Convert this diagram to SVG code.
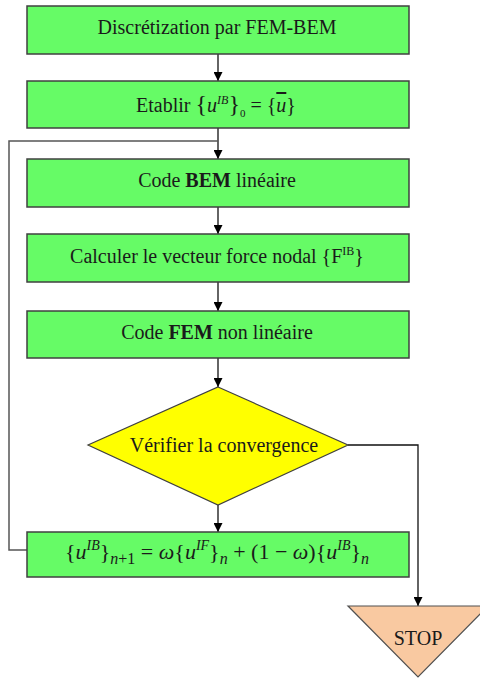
<svg xmlns="http://www.w3.org/2000/svg" width="480" height="678" viewBox="0 0 480 678">
  <defs>
    <marker id="arrow" viewBox="0 0 10 10" refX="10" refY="5" markerWidth="9" markerHeight="9" markerUnits="userSpaceOnUse" orient="auto">
      <path d="M0,0 L10,5 L0,10 Z" fill="#000"/>
    </marker>
    <style>
      .box { fill: #66fb66; stroke: #404040; stroke-width: 1.5; }
      .dec { fill: #ffff00; stroke: #404040; stroke-width: 1.2; }
      .term { fill: #f9c9a1; stroke: #505050; stroke-width: 1.2; }
      .lbl { font-family: "Liberation Serif", "Times New Roman", serif; font-size: 20px; fill: #1a1a1a; text-anchor: middle; }
      .math { font-family: "Liberation Serif", "DejaVu Serif", serif; font-size: 22px; fill: #1a1a1a; text-anchor: middle; }
      .conn { fill: none; stroke: #111; stroke-width: 1.3; }
      .loop { fill: none; stroke: #555; stroke-width: 1.5; }
    </style>
  </defs>

  <g id="connectors">
    <line class="conn" x1="218" y1="54" x2="218" y2="81" marker-end="url(#arrow)"/>
    <line class="conn" x1="218" y1="128" x2="218" y2="159" marker-end="url(#arrow)"/>
    <line class="conn" x1="218" y1="207" x2="218" y2="234" marker-end="url(#arrow)"/>
    <line class="conn" x1="218" y1="282" x2="218" y2="311" marker-end="url(#arrow)"/>
    <line class="conn" x1="218" y1="358" x2="218" y2="387" marker-end="url(#arrow)"/>
    <line class="conn" x1="218" y1="505" x2="218" y2="532" marker-end="url(#arrow)"/>
    <polyline class="loop" points="27,550 9,550 9,141 218,141"/>
    <polyline class="conn" points="348,445 418,445 418,606" marker-end="url(#arrow)"/>
  </g>

  <g id="discretization">
    <rect class="box" x="27" y="6" width="382" height="48"/>
    <text class="lbl" x="217" y="34">Discrétization par FEM-BEM</text>
  </g>

  <g id="etablir">
    <rect class="box" x="27" y="81" width="382" height="47"/>
    <text class="lbl" x="216" y="112">Etablir <tspan font-size="24">{</tspan><tspan font-style="italic">u</tspan><tspan font-style="italic" font-size="12" dy="-8">IB</tspan><tspan font-size="24" dy="8">}</tspan><tspan font-size="11" dy="5">0</tspan><tspan dy="-5"> = {</tspan><tspan font-style="italic" text-decoration="overline">u</tspan>}</text>
  </g>

  <g id="bem">
    <rect class="box" x="27" y="159" width="382" height="48"/>
    <text class="lbl" x="217" y="187">Code <tspan font-weight="bold">BEM</tspan> linéaire</text>
  </g>

  <g id="force">
    <rect class="box" x="27" y="234" width="382" height="48"/>
    <text class="lbl" x="217" y="263">Calculer le vecteur force nodal {F<tspan font-size="12" dy="-8">IB</tspan><tspan dy="8">}</tspan></text>
  </g>

  <g id="fem">
    <rect class="box" x="27" y="311" width="382" height="47"/>
    <text class="lbl" x="217" y="339">Code <tspan font-weight="bold">FEM</tspan> non linéaire</text>
  </g>

  <g id="convergence">
    <polygon class="dec" points="218,387 348,445 218,505 88,445"/>
    <text class="lbl" x="224" y="452">Vérifier la convergence</text>
  </g>

  <g id="update">
    <rect class="box" x="27" y="532" width="382" height="45"/>
    <text class="math" x="217" y="559">{<tspan font-style="italic">u</tspan><tspan font-style="italic" font-size="14" dy="-9">IB</tspan><tspan dy="9">}</tspan><tspan font-style="italic" font-size="16" dy="5">n</tspan><tspan font-size="16">+1</tspan><tspan dy="-5"> = </tspan><tspan font-style="italic">ω</tspan>{<tspan font-style="italic">u</tspan><tspan font-style="italic" font-size="14" dy="-9">IF</tspan><tspan dy="9">}</tspan><tspan font-style="italic" font-size="16" dy="5">n</tspan><tspan dy="-5"> + (1 − </tspan><tspan font-style="italic">ω</tspan>){<tspan font-style="italic">u</tspan><tspan font-style="italic" font-size="14" dy="-9">IB</tspan><tspan dy="9">}</tspan><tspan font-style="italic" font-size="16" dy="5">n</tspan></text>
  </g>

  <g id="stop">
    <polygon class="term" points="348,606 488,606 418,677"/>
    <text class="lbl" x="418" y="645">STOP</text>
  </g>
</svg>
